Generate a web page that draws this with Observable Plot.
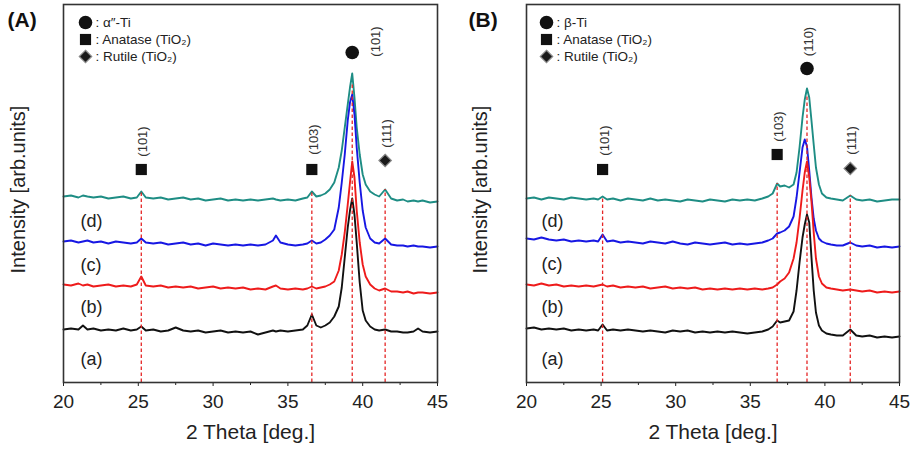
<!DOCTYPE html>
<html><head><meta charset="utf-8">
<script src="https://cdn.jsdelivr.net/npm/d3@7"></script>
<script src="https://cdn.jsdelivr.net/npm/@observablehq/plot@0.6"></script>
<style>
body{margin:0;background:#fff;}
#wrap{display:flex;width:913px;height:451px;overflow:hidden;}
#wrap svg{overflow:visible;}
</style></head><body><div id="wrap"></div>
<script>
// ---------- Panel A data (2θ in degrees, intensity in arb. units) ----------
const twoThetaA = [20.0,20.5,21.0,21.3,21.6,22.0,22.5,23.0,23.5,24.0,24.5,24.9,25.2,25.5,26.0,26.5,27.0,27.5,28.0,28.5,29.0,29.5,30.0,30.5,31.0,31.5,32.0,32.5,33.0,33.5,34.0,34.2,34.5,35.0,35.5,36.0,36.3,36.6,36.9,37.2,37.5,37.8,38.1,38.4,38.6,38.8,39.0,39.15,39.3,39.45,39.6,39.8,40.0,40.2,40.5,40.8,41.1,41.5,41.9,42.3,42.7,43.0,43.4,43.7,44.0,44.5,45.0];
const dA = [186,187,185,187,186,185,186,184,185,186,184,185,191,185,184,185,183,184,185,183,184,182,183,184,182,183,182,183,182,183,184,183,182,183,182,184,185,191,186,187,189,193,200,215,232,255,278,295,309,285,255,228,208,198,191,188,186,193,184,182,183,181,182,181,182,180,181];
const cA = [141,142,140,141,142,140,141,139,141,140,139,140,144,140,139,140,138,139,140,138,139,137,139,138,137,138,137,138,137,138,142,147,140,138,137,138,139,142,139,140,143,147,153,175,200,228,262,280,288,268,235,200,172,155,144,140,139,144,138,137,137,136,137,136,136,135,136];
const bA = [98,97,99,97,98,96,97,98,96,97,96,98,106,97,96,97,95,96,95,96,94,95,96,94,95,94,95,93,94,93,96,97,94,93,94,93,94,96,94,95,96,98,101,112,128,150,178,200,221,205,172,140,118,106,98,94,92,94,91,91,90,91,89,90,90,89,90];
const aA = [53,54,53,57,53,54,52,53,52,54,52,53,56,52,53,51,52,55,52,51,52,50,51,52,50,51,50,51,48,50,52,51,52,51,52,53,57,68,57,55,57,60,66,76,95,125,155,172,184,168,140,100,72,62,56,53,52,53,51,51,50,50,51,54,51,50,51];
const peaksA = [25.2, 36.6, 39.3, 41.5];
const peakTopA = [191, 191, 300, 193];
const markerXA = [25.2, 36.6, 41.5, 39.3];
const markerYA = [213, 213, 222, 330];
const markerSymA = ["square", "square", "diamond2", "circle"];
const hklA = ["(101)", "(103)", "(111)", "(101)"];
const hklXA = [25.2, 36.6, 41.5, 40.75];
const hklYA = [241, 243, 249, 341];
const legendA = [": α″-Ti", ": Anatase (TiO₂)", ": Rutile (TiO₂)"];

// ---------- Panel B data ----------
const twoThetaB = [20.0,20.5,21.0,21.5,22.0,22.5,23.0,23.5,24.0,24.5,24.8,25.1,25.4,25.8,26.3,26.8,27.3,27.8,28.3,28.8,29.3,29.8,30.3,30.8,31.3,31.8,32.3,32.8,33.3,33.8,34.3,34.8,35.3,35.8,36.2,36.5,36.8,37.0,37.3,37.6,37.9,38.1,38.3,38.5,38.65,38.8,38.95,39.1,39.25,39.4,39.6,39.8,40.1,40.4,40.8,41.2,41.7,42.1,42.5,43.0,43.5,44.0,44.5,45.0];
const dB = [184,185,183,185,184,183,185,184,183,184,183,186,183,184,182,184,183,182,184,182,183,182,181,183,182,181,183,182,181,183,182,183,182,184,186,189,199,196,197,195,198,210,235,265,283,294,285,262,238,215,198,189,185,184,183,182,187,183,182,183,181,182,183,183];
const cB = [144,143,145,143,142,143,141,142,141,142,141,148,141,142,140,141,140,139,141,140,139,141,139,138,140,139,138,139,140,138,139,138,139,140,142,144,149,150,152,156,166,185,210,235,243,236,212,185,164,152,144,141,139,138,137,137,140,137,136,137,135,136,135,136];
const bB = [98,97,99,97,98,96,97,96,97,96,97,98,96,97,95,96,95,96,94,95,96,94,95,94,95,93,94,93,94,93,94,93,94,93,94,95,98,101,104,110,124,140,164,192,210,221,205,181,150,124,106,99,95,94,93,92,93,92,91,92,90,91,90,91];
const aB = [54,55,53,54,53,54,52,53,52,53,52,58,52,53,52,53,52,51,52,51,50,52,51,52,50,51,50,51,50,51,50,49,50,51,53,56,62,60,61,62,71,92,120,145,158,168,160,125,92,70,57,52,49,48,47,47,53,47,46,47,45,46,45,46];
const peaksB = [25.1, 36.8, 38.8, 41.7];
const peakTopB = [186, 199, 288, 187];
const markerXB = [25.1, 36.8, 41.7, 38.8];
const markerYB = [213, 228, 214, 314];
const markerSymB = ["square", "square", "diamond2", "circle"];
const hklB = ["(101)", "(103)", "(111)", "(110)"];
const hklXB = [25.1, 36.8, 41.7, 38.8];
const hklYB = [242, 256, 242, 341];
const legendB = [": β-Ti", ": Anatase (TiO₂)", ": Rutile (TiO₂)"];

const sampleLabels = ["(a)", "(b)", "(c)", "(d)"];
const majorTicks = [20, 25, 30, 35, 40, 45];
const minorTicks = [22.5, 27.5, 32.5, 37.5, 42.5];
const xTitle = "2 Theta [deg.]";
const yTitle = "Intensity [arb.units]";

const colors = {a: "#111111", b: "#ee1b1b", c: "#1717e3", d: "#1e8d84"};
const FONT = "'Liberation Sans', Arial, Helvetica, sans-serif";
const symStyle = {
  circle: {r: 6.8, fill: "#111"},
  square: {r: 6.3, fill: "#111"},
  diamond2: {r: 5.6, fill: "#1a1a1a", stroke: "#8a8a8a", strokeWidth: 1.2}
};

function panel(o) {
  const rows = o.grid.map((t, i) => ({t, a: o.a[i], b: o.b[i], c: o.c[i], d: o.d[i]}));
  const rules = o.peaks.map((p, i) => ({p, top: o.peakTop[i]}));
  const markers = o.mx.map((x, i) => ({x, y: o.my[i], s: o.ms[i]}));
  const hkl = o.hkl.map((h, i) => ({h, x: o.hx[i], y: o.hy[i]}));
  const firstVals = [o.a[0], o.b[0], o.c[0], o.d[0]];
  const legendSyms = ["circle", "square", "diamond2"];
  const marks = [
    Plot.axisX({ticks: majorTicks, tickSize: 4, tickPadding: 8, fontSize: 19, label: null, tickFormat: d => String(d)}),
    Plot.axisX({ticks: minorTicks, tickSize: 3, tickFormat: () => "", label: null}),
    ...["d", "c", "b", "a"].map(k => Plot.line(rows, {x: "t", y: k, stroke: colors[k], strokeWidth: 1.9})),
    Plot.ruleX(rules, {x: "p", y1: 0, y2: "top", stroke: "#e52626", strokeWidth: 1.3, strokeDasharray: "3.5,2.5"}),
    ...legendSyms.map(s => Plot.dot(markers.filter(m => m.s === s), {x: "x", y: "y", symbol: s, ...symStyle[s]})),
    Plot.text(hkl, {x: "x", y: "y", text: "h", rotate: -90, fontSize: 13, fill: "#333", dx: 2}),
    // legend
    ...legendSyms.map((s, i) => Plot.dot([0], {frameAnchor: "top-left", dx: o.legDx, dy: 18 + 17 * i, symbol: s, ...symStyle[s]})),
    ...o.legend.map((t, i) => Plot.text([t], {frameAnchor: "top-left", dx: o.legDx + 10, dy: 18 + 17 * i, text: d => d, textAnchor: "start", lineAnchor: "middle", fontSize: 13.5, fill: "#222"})),
    // sample labels
    ...sampleLabels.map((s, i) => Plot.text([s], {x: () => 20, y: () => firstVals[i], text: d => d, textAnchor: "start", lineAnchor: "middle", dx: o.labDx, dy: o.labDy[i], fontSize: 18, fill: "#222"})),
    // axis titles
    Plot.text([xTitle], {frameAnchor: "bottom", dy: 42, text: d => d, textAnchor: "middle", lineAnchor: "top", fontSize: 21, fill: "#222"}),
    Plot.text([yTitle], {frameAnchor: "left", dx: o.yTitleDx, dy: -4, rotate: -90, text: d => d, textAnchor: "middle", lineAnchor: "middle", fontSize: 20, fill: "#222"}),
    // panel label
    Plot.text([o.tag], {frameAnchor: "top-left", dx: o.tagDx, dy: 8, text: d => d, textAnchor: "start", lineAnchor: "top", fontSize: 21, fontWeight: "bold", fill: "#111"}),
    Plot.frame({stroke: "#333", strokeWidth: 1.6})
  ];
  return Plot.plot({
    width: o.width, height: 451,
    marginLeft: o.ml, marginRight: o.mr, marginTop: 4, marginBottom: 69,
    x: {domain: [20, 45]},
    y: {domain: [0, 378], axis: null},
    style: {fontFamily: FONT, color: "#222", background: "#fff", overflow: "visible"},
    marks
  });
}

const wrap = document.getElementById("wrap");
wrap.appendChild(panel({
  grid: twoThetaA, a: aA, b: bA, c: cA, d: dA,
  peaks: peaksA, peakTop: peakTopA,
  mx: markerXA, my: markerYA, ms: markerSymA,
  hkl: hklA, hx: hklXA, hy: hklYA, legend: legendA,
  width: 456, ml: 63, mr: 19, legDx: 22, labDx: 17, labDy: [30, 23, 24, 25],
  yTitleDx: -45, tag: "(A)", tagDx: -56
}));
wrap.appendChild(panel({
  grid: twoThetaB, a: aB, b: bB, c: cB, d: dB,
  peaks: peaksB, peakTop: peakTopB,
  mx: markerXB, my: markerYB, ms: markerSymB,
  hkl: hklB, hx: hklXB, hy: hklYB, legend: legendB,
  width: 457, ml: 70, mr: 14, legDx: 20, labDx: 15, labDy: [31, 23, 26, 23],
  yTitleDx: -46, tag: "(B)", tagDx: -58
}));
</script>
</body></html>
